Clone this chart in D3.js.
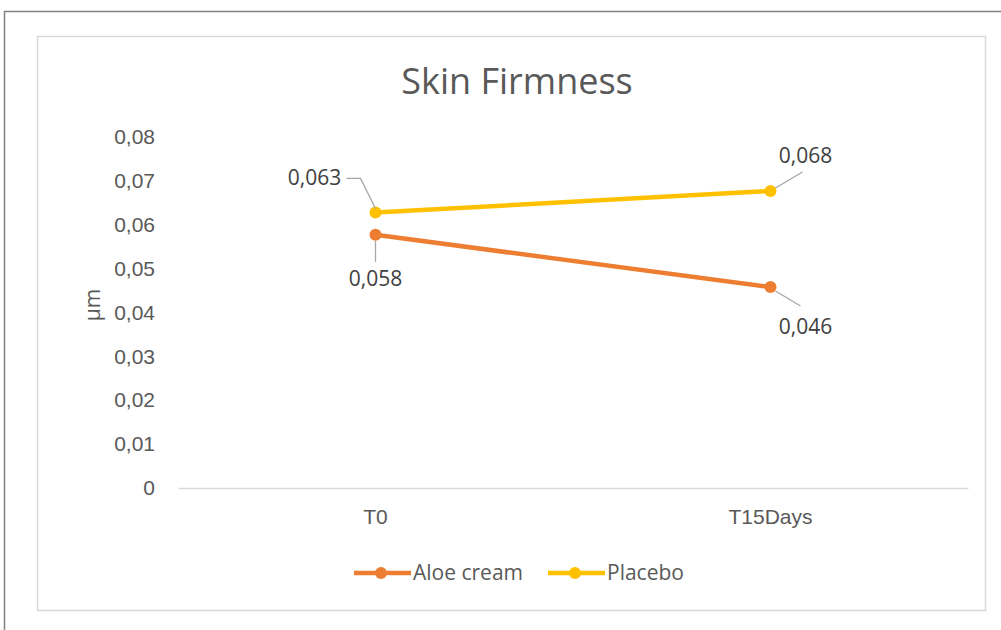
<!DOCTYPE html>
<html><head><meta charset="utf-8">
<script src="https://cdn.jsdelivr.net/npm/d3@7"></script>
<style>body{margin:0;background:#fff;}svg{display:block;font-family:"Open Sans","Noto Sans",sans-serif;}</style>
</head><body>
<script>
const categories = ["T0", "T15Days"];
const seriesNames = ["Aloe cream", "Placebo"];
const aloeValues = [0.0577, 0.0458];
const placeboValues = [0.0628, 0.0677];
const yTicks = [0, 0.01, 0.02, 0.03, 0.04, 0.05, 0.06, 0.07, 0.08];
const colors = ["#ED7D31", "#FFC000"];

const W = 1001, H = 630;
const svg = d3.select("body").append("svg").attr("width", W).attr("height", H);

// outer frame
svg.append("path").attr("d", `M4.5,${H} V11.5 H${W}`).attr("fill","none").attr("stroke","#808080").attr("stroke-width",1.5);
// inner chart box
svg.append("rect").attr("x",37.5).attr("y",36.5).attr("width",948).attr("height",574)
  .attr("fill","#fff").attr("stroke","#d9d9d9").attr("stroke-width",1.5);

const x = d3.scaleBand().domain(categories).range([178, 968]);
const y = d3.scaleLinear().domain([0, 0.08]).range([488, 137]);
const fmt = v => d3.format(".3f")(v).replace(".", ",");
const tickFmt = v => v === 0 ? "0" : d3.format(".2f")(v).replace(".", ",");

svg.append("text").attr("x", 517).attr("y", 94).attr("text-anchor","middle")
  .attr("font-size", 36).attr("fill","#595959").text("Skin Firmness");

// y axis labels
const yAxis = d3.axisLeft(y).tickValues(yTicks).tickFormat(tickFmt).tickSize(0).tickPadding(0);
const yg = svg.append("g").attr("transform","translate(155,0)").call(yAxis);
yg.select(".domain").remove();
yg.selectAll("text").attr("font-size",21).attr("fill","#595959").attr("font-family","inherit");

// x axis
const xAxis = d3.axisBottom(x).tickSize(0).tickPadding(21);
const xg = svg.append("g").attr("transform","translate(0,488)").call(xAxis);
xg.select(".domain").attr("stroke","#d9d9d9").attr("stroke-width",1.5);
xg.selectAll("text").attr("font-size",21).attr("fill","#595959").attr("font-family","inherit");

// y title
svg.append("text").attr("transform","translate(100,305) rotate(-90)").attr("text-anchor","middle")
  .attr("font-size",21).attr("fill","#595959").text("µm");

const series = [
  {name: seriesNames[0], values: aloeValues, color: colors[0]},
  {name: seriesNames[1], values: placeboValues, color: colors[1]}
];
const cx = c => x(c) + x.bandwidth()/2;
const line = d3.line().x((d,i) => cx(categories[i])).y(d => y(d));

series.forEach(s => {
  svg.append("path").attr("d", line(s.values)).attr("fill","none")
    .attr("stroke", s.color).attr("stroke-width", 4.5).attr("stroke-linecap","round");
  svg.selectAll(null).data(s.values).enter().append("circle")
    .attr("cx",(d,i)=>cx(categories[i])).attr("cy",d=>y(d)).attr("r",6).attr("fill",s.color);
});

// data labels with leader lines (offsets relative to point)
const labels = [
  {s:1, i:0, dx:-61, dy:-34, lead:[[-29,-34],[-15,-34],[0,-4]]},
  {s:0, i:0, dx:0, dy:44, lead:[[0,6],[0,27]]},
  {s:1, i:1, dx:35, dy:-35, lead:[[5,-3],[32,-19]]},
  {s:0, i:1, dx:35, dy:40, lead:[[5,4],[30,19]]}
];
labels.forEach(l => {
  const v = series[l.s].values[l.i];
  const px = cx(categories[l.i]), py = y(v);
  svg.append("path").attr("d", d3.line()(l.lead.map(p=>[px+p[0], py+p[1]])))
    .attr("fill","none").attr("stroke","#a6a6a6").attr("stroke-width",1.3);
  svg.append("text").attr("x", px+l.dx).attr("y", py+l.dy+7).attr("text-anchor","middle")
    .attr("font-size",21).attr("fill","#404040").text(fmt(v));
});

// legend
const legend = [{x:354, s:0}, {x:548, s:1}];
legend.forEach(L => {
  const s = series[L.s];
  svg.append("line").attr("x1",L.x).attr("x2",L.x+57).attr("y1",573).attr("y2",573)
    .attr("stroke",s.color).attr("stroke-width",4.5);
  svg.append("circle").attr("cx",L.x+27).attr("cy",573).attr("r",6).attr("fill",s.color);
  svg.append("text").attr("x",L.x+59).attr("y",580).attr("font-size",21).attr("fill","#595959").text(s.name);
});
</script>
</body></html>
